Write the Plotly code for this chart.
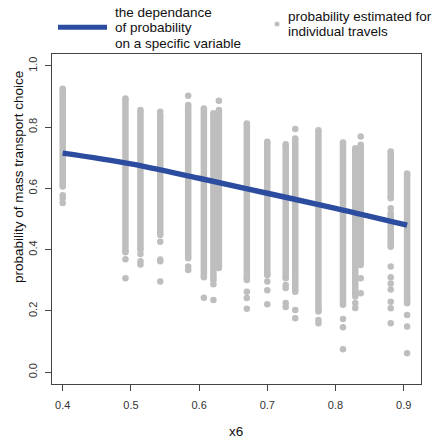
import plotly.graph_objects as go

# ---- data ----
col_x = [0.400, 0.492, 0.514, 0.543, 0.584, 0.607, 0.621, 0.629, 0.670, 0.700,
         0.727, 0.741, 0.775, 0.811, 0.829, 0.837, 0.881, 0.905]
# dense runs of overlapping points per column: list of (low, high)
dense_runs = [
    [(0.606, 0.925)],
    [(0.392, 0.893)],
    [(0.400, 0.856)],
    [(0.448, 0.838)],
    [(0.372, 0.872)],
    [(0.310, 0.861)],
    [(0.300, 0.845)],
    [(0.340, 0.856)],
    [(0.301, 0.812)],
    [(0.317, 0.752)],
    [(0.307, 0.744)],
    [(0.263, 0.763)],
    [(0.198, 0.790)],
    [(0.220, 0.750)],
    [(0.247, 0.731)],
    [(0.350, 0.742)],
    [(0.568, 0.720), (0.410, 0.513)],
    [(0.225, 0.649)],
]
# isolated points per column
extra_pts = [
    [0.578, 0.568, 0.552],
    [0.369, 0.307],
    [0.386, 0.362, 0.352],
    [0.850, 0.426, 0.368, 0.362, 0.296],
    [0.902, 0.345, 0.334],
    [0.243],
    [0.287, 0.236],
    [0.886],
    [0.263, 0.242, 0.207],
    [0.296, 0.268, 0.222],
    [0.285, 0.275, 0.226, 0.213],
    [0.794, 0.203, 0.176],
    [0.171, 0.160],
    [0.174, 0.147, 0.075],
    [0.226, 0.210],
    [0.769, 0.307, 0.258],
    [0.535, 0.520, 0.345, 0.310, 0.290, 0.270, 0.230, 0.209, 0.160],
    [0.187, 0.149, 0.062],
]
# fitted dependence curve
curve_x = [0.400, 0.500, 0.600, 0.700, 0.800, 0.905]
curve_y = [0.715, 0.680, 0.633, 0.584, 0.535, 0.480]

x_ticks = [0.4, 0.5, 0.6, 0.7, 0.8, 0.9]
y_ticks = [0.0, 0.2, 0.4, 0.6, 0.8, 1.0]

legend_line_text = ["the dependance", "of probability", "on a specific variable"]
legend_dot_text = ["probability estimated for", "individual travels"]
x_title = "x6"
y_title = "probability of mass transport choice"

# ---- styling ----
GREY = "#BEBEBE"
BLUE = "#2B4C9F"
FONT = "Liberation Sans, Arial, sans-serif"
W, H = 440, 440
L, R, T, B = 52, 19, 54, 56
PW, PH = W - L - R, H - T - B


def px(xp):
    return (xp - L) / PW


def py(yp):
    return (H - B - yp) / PH


fig = go.Figure()

for i, xv in enumerate(col_x):
    for lo, hi in dense_runs[i]:
        fig.add_trace(go.Scatter(x=[xv, xv], y=[lo, hi], mode="lines+markers",
                                 line=dict(color=GREY, width=6.5),
                                 marker=dict(color=GREY, size=6.5),
                                 hoverinfo="skip", showlegend=False))
    fig.add_trace(go.Scatter(x=[xv] * len(extra_pts[i]), y=extra_pts[i], mode="markers",
                             marker=dict(color=GREY, size=6.5),
                             showlegend=False))

fig.add_trace(go.Scatter(x=curve_x, y=curve_y, mode="lines",
                         line=dict(color=BLUE, width=5.5, shape="spline"),
                         showlegend=False))

axis_common = dict(showgrid=False, zeroline=False, showline=True, mirror=True,
                   linecolor="#444444", linewidth=1, ticks="outside", ticklen=6,
                   tickcolor="#444444", tickfont=dict(family=FONT, size=11, color="#333333"),
                   tickformat=".1f", automargin=False)

fig.update_xaxes(range=[0.3843, 0.9254], tickvals=x_ticks, ticklabelstandoff=5, **axis_common)
fig.update_yaxes(range=[-0.0382, 1.0385], tickvals=y_ticks, tickangle=-90,
                 ticklabelstandoff=4, **axis_common)

ann = []
ann.append(dict(text=x_title, x=px(236), y=py(431), xref="paper", yref="paper",
                xanchor="center", yanchor="middle",
                showarrow=False, font=dict(family=FONT, size=13.5, color="#111")))
ann.append(dict(text=y_title, x=px(18), y=py(177), xref="paper", yref="paper",
                xanchor="center", yanchor="middle",
                textangle=-90, showarrow=False, font=dict(family=FONT, size=13.5, color="#111")))
for j, t in enumerate(legend_line_text):
    ann.append(dict(text=t, x=px(112.5), y=py(12.5 + 15.5 * j), xref="paper", yref="paper",
                    xanchor="left", yanchor="middle", showarrow=False,
                    font=dict(family=FONT, size=13.5, color="#111")))
for j, t in enumerate(legend_dot_text):
    ann.append(dict(text=t, x=px(285.5), y=py(16.5 + 15 * j), xref="paper", yref="paper",
                    xanchor="left", yanchor="middle", showarrow=False,
                    font=dict(family=FONT, size=13.5, color="#111")))

shapes = [
    dict(type="line", xref="paper", yref="paper", x0=px(58), x1=px(107), y0=py(27.3), y1=py(27.3),
         line=dict(color=BLUE, width=5)),
    dict(type="circle", xref="paper", yref="paper", x0=px(274.5), x1=px(279.5),
         y0=py(26.5), y1=py(21.5), fillcolor=GREY, line=dict(color=GREY, width=0)),
]

fig.update_layout(width=W, height=H, margin=dict(l=L, r=R, t=T, b=B),
                  plot_bgcolor="white", paper_bgcolor="white",
                  annotations=ann, shapes=shapes, showlegend=False)

fig.write_html("out.html", config={"displayModeBar": False},
               post_script="document.body.style.margin='0';document.body.style.overflow='hidden';")
